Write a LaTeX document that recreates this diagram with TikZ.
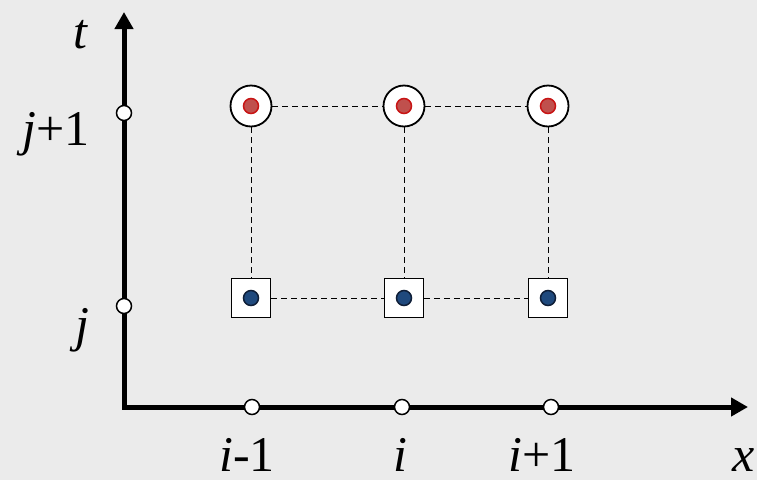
\documentclass[tikz,border=0pt]{standalone}
\usepackage{fontspec}
\setmainfont{Liberation Serif}
\usetikzlibrary{arrows.meta}
\definecolor{bgGray}{RGB}{235,235,235}
\definecolor{dotRed}{RGB}{192,80,77}
\definecolor{rimRed}{RGB}{200,20,20}
\definecolor{dotBlue}{RGB}{31,73,125}
\definecolor{rimBlue}{RGB}{15,30,55}
\tikzset{
  axis/.style={line width=5pt, {Triangle[length=17pt,width=18pt]}-{Triangle[length=17pt,width=18pt]}},
  tickpt/.style={circle, draw, fill=white, line width=1.5pt, minimum size=15pt, inner sep=0pt},
  newpt/.style={circle, draw, fill=white, line width=1.8pt, minimum size=41pt, inner sep=0pt},
  oldpt/.style={rectangle, draw, fill=white, line width=1.8pt, minimum size=39pt, inner sep=0pt},
  gridline/.style={line width=1pt, dash pattern=on 6pt off 4pt},
  lbl/.style={font=\fontsize{50}{54}\selectfont, inner sep=0pt},
}
\begin{document}
\begin{tikzpicture}[x=1pt, y=-1pt]
    % background and page size
    \fill[bgGray] (0,0) rectangle (757,480);
    \useasboundingbox (0,0) rectangle (757,480);
    % axes
    \coordinate (tip t) at (124,12);
    \coordinate (orig) at (124,407);
    \coordinate (tip x) at (748,407);
    \draw[axis] (tip t) -- (orig) -- (tip x);
    % ticks on the axes
    \node[tickpt] (tx1) at (252,407) {};
    \node[tickpt] (tx2) at (402,407) {};
    \node[tickpt] (tx3) at (551,407) {};
    \node[tickpt] (tt1) at (124,306) {};
    \node[tickpt] (tt2) at (124,113) {};
    % labels
    \node[lbl, anchor=base] (lx1) at (247,471) {\textit{i}-1};
    \node[lbl, anchor=base] (lx2) at (400,471) {\textit{i}};
    \node[lbl, anchor=base] (lx3) at (542,471) {\textit{i}+1};
    \node[lbl, anchor=base] (lx) at (744,471) {\textit{x}};
    \node[lbl, anchor=base east] (lt1) at (90,341) {\textit{j}};
    \node[lbl, anchor=base east] (lt2) at (90,145) {\textit{j}+1};
    \node[lbl, anchor=base] (lt) at (81,48) {\textit{t}};
    % grid points
    \foreach \k/\xx in {1/251, 2/404, 3/548} {
        \node[newpt] (c\k) at (\xx,106) {};
        \filldraw[fill=dotRed, draw=rimRed, line width=1.5pt] (c\k) circle (7.5pt);
        \node[oldpt] (s\k) at (\xx,298) {};
        \filldraw[fill=dotBlue, draw=rimBlue, line width=1.5pt] (s\k) circle (7.5pt);
    }
    % dashed links
    \draw[gridline] (c1) -- (c2) -- (c3);
    \draw[gridline] (s1) -- (s2) -- (s3);
    \foreach \k in {1,2,3}
        \draw[gridline] (c\k) -- (s\k);
\end{tikzpicture}
\end{document}
